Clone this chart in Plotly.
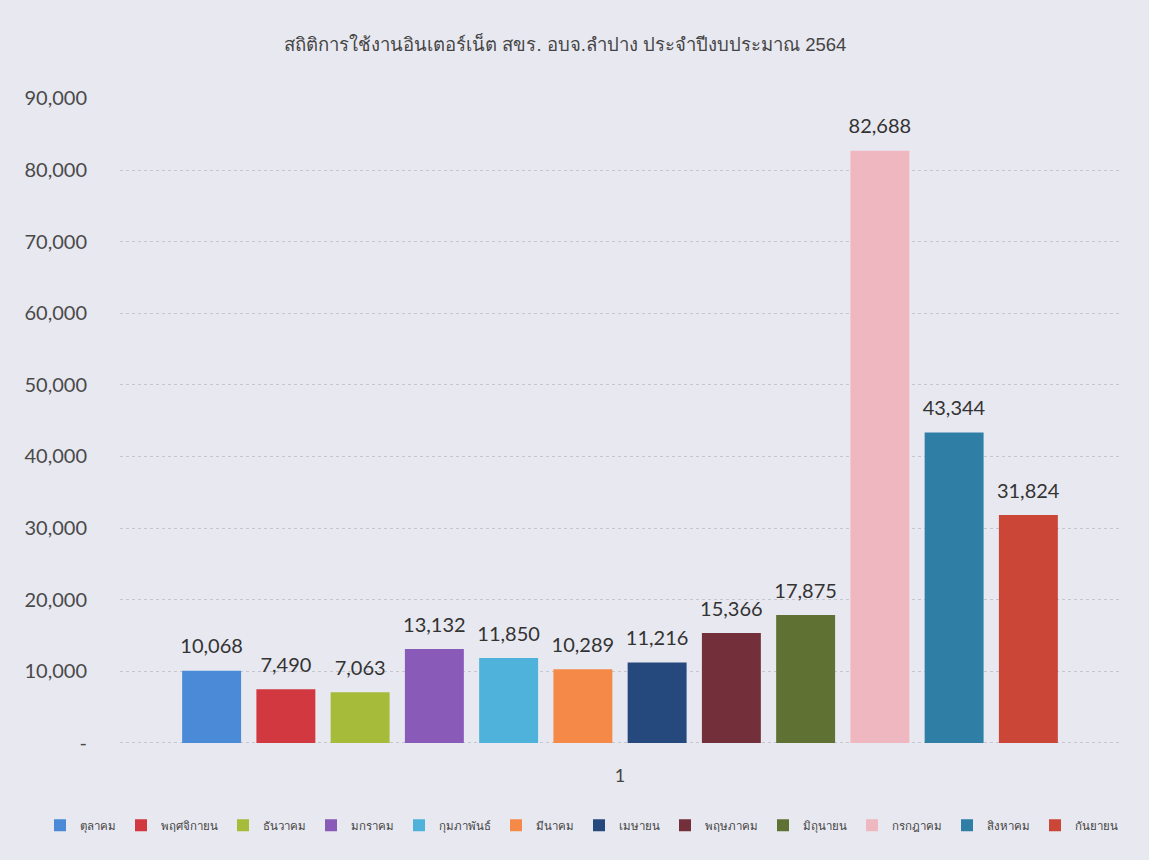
import plotly.graph_objects as go

title_text = "สถิติการใช้งานอินเตอร์เน็ต สขร. อบจ.ลำปาง ประจำปีงบประมาณ 2564"
category = ["1"]
months = ["ตุลาคม", "พฤศจิกายน", "ธันวาคม", "มกราคม", "กุมภาพันธ์", "มีนาคม",
          "เมษายน", "พฤษภาคม", "มิถุนายน", "กรกฎาคม", "สิงหาคม", "กันยายน"]
values = [10068, 7490, 7063, 13132, 11850, 10289, 11216, 15366, 17875, 82688, 43344, 31824]
colors = ["#4a8ad6", "#d2383f", "#a6bb3a", "#8a5ab9", "#4fb2da", "#f58a48",
          "#25497c", "#74303a", "#5f7233", "#efb7bf", "#2e7ea6", "#cb4637"]
tick_vals = [0, 10000, 20000, 30000, 40000, 50000, 60000, 70000, 80000, 90000]
tick_text = ["-", "10,000", "20,000", "30,000", "40,000", "50,000", "60,000", "70,000", "80,000", "90,000"]

BG = "#e8e8f0"
fig = go.Figure()
for i, (m, v, c) in enumerate(zip(months, values, colors)):
    fig.add_trace(go.Bar(
        name=m, x=category, y=[v], marker=dict(color=c, line=dict(width=0)),
        legend="legend" if i < 6 else "legend2",
        text=[f"<span style='font-size:20px'>{v:,}</span><br><span style='color:rgba(0,0,0,0)'>.</span>"],
        textposition="outside", cliponaxis=False, constraintext="none",
        textfont=dict(size=9.5, color="#333333", family="Lato, Open Sans, sans-serif"),
    ))

legend_common = dict(orientation="h", y=-0.1256, yanchor="middle",
                     font=dict(size=11.5, color="#444444", family="Noto Sans, sans-serif"),
                     itemwidth=30, tracegroupgap=0, bgcolor="rgba(0,0,0,0)")

fig.update_layout(
    width=1149, height=860,
    paper_bgcolor=BG, plot_bgcolor=BG,
    barmode="group", bargap=0.109, bargroupgap=0.206,
    title=dict(text=title_text, x=0.492, xanchor="center", y=0.948, yanchor="middle",
               font=dict(size=18.5, color="#444444", family="Liberation Sans, Noto Sans, sans-serif")),
    margin=dict(l=120, r=29, t=98, b=116, autoexpand=False),
    showlegend=True,
    legend=dict(x=0.459, xanchor="right", **legend_common),
    legend2=dict(x=0.459, xanchor="left", **legend_common),
    font=dict(family="Lato, Open Sans, sans-serif"),
)
fig.update_yaxes(range=[-150, 90060], tickvals=tick_vals, ticktext=tick_text,
                 showgrid=True, gridcolor="#c6c6ce", griddash="dot", gridwidth=1,
                 zeroline=False, showline=False, ticks="", ticklabelstandoff=32,
                 tickfont=dict(size=20, color="#4a4a4a"))
fig.update_xaxes(showgrid=False, showline=False, ticks="",
                 tickfont=dict(size=18, color="#444444"), ticklabelstandoff=19)

fig.write_html("out.html", config={"displayModeBar": False},
               post_script="document.body.style.margin='0';document.body.style.background='%s';" % BG)
